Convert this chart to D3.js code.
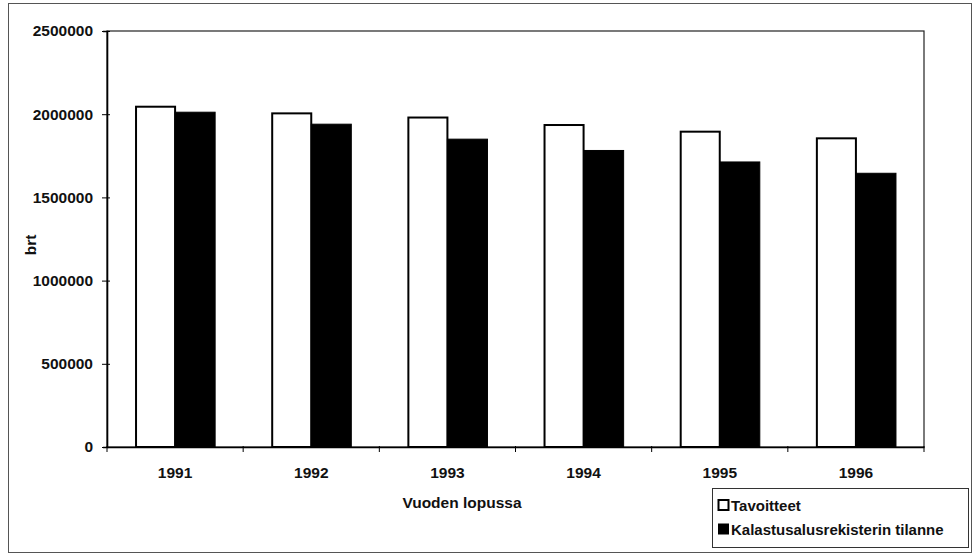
<!DOCTYPE html>
<html><head><meta charset="utf-8">
<script src="https://cdn.jsdelivr.net/npm/d3@7"></script>
<style>body{margin:0;background:#fff}text{font-family:"Liberation Sans",Arial,sans-serif;font-weight:bold;fill:#111}</style>
</head><body>
<svg id="c" width="975" height="556"></svg>
<script>
const years = ["1991","1992","1993","1994","1995","1996"];
const seriesNames = ["Tavoitteet","Kalastusalusrekisterin tilanne"];
const tavoitteet = [2045000,2005000,1980000,1935000,1895000,1855000];
const tilanne = [2012000,1940000,1850000,1782000,1713000,1645000];
const yTicks = [0,500000,1000000,1500000,2000000,2500000];
const xTitle = "Vuoden lopussa";
const yTitle = "brt";

const svg = d3.select("#c");
const L=107, R=924, T=31, B=447;
const FS = "15.5px";
// outer border
svg.append("rect").attr("x",8.5).attr("y",3.5).attr("width",963).attr("height",549)
  .attr("fill","none").attr("stroke","#555").attr("stroke-width",1);
// plot frame
svg.append("rect").attr("x",L).attr("y",T).attr("width",R-L).attr("height",B-T)
  .attr("fill","none").attr("stroke","#222").attr("stroke-width",1.2);

const x0 = d3.scaleBand().domain(years).range([L,R]).padding(0);
const x1 = d3.scaleBand().domain(seriesNames).range([0,x0.bandwidth()]).paddingInner(0).paddingOuter(0.7);
const y = d3.scaleLinear().domain([0,2500000]).range([B,T]);

const data = years.map((yr,i)=>({yr, vals:[tavoitteet[i],tilanne[i]]}));
const g = svg.append("g").selectAll("g").data(data).join("g")
  .attr("transform",d=>`translate(${x0(d.yr)},0)`);
g.selectAll("rect").data(d=>d.vals.map((v,j)=>({v,s:seriesNames[j],j}))).join("rect")
  .attr("x",d=>x1(d.s)+(d.j===0?1:0))
  .attr("y",d=>y(d.v))
  .attr("width",d=>x1.bandwidth()-(d.j===0?1:0))
  .attr("height",d=>B-y(d.v))
  .attr("fill",d=>d.j===0?"#fff":"#000")
  .attr("stroke","#000").attr("stroke-width",d=>d.j===0?2:1);

// y axis
const ya = svg.append("g").attr("transform",`translate(${L},0)`)
  .call(d3.axisLeft(y).tickValues(yTicks).tickFormat(d3.format("d")).tickSize(4).tickPadding(10));
ya.select(".domain").attr("stroke","#000").attr("stroke-width",1.6);
ya.selectAll(".tick line").attr("stroke","#000").attr("x2",-5).attr("x1",3);
ya.selectAll("text").style("font-size",FS).attr("fill","#111");

// x axis
const xa = svg.append("g").attr("transform",`translate(0,${B})`)
  .call(d3.axisBottom(x0).tickSize(0).tickPadding(20));
xa.select(".domain").attr("stroke","#000").attr("stroke-width",1.6);
xa.selectAll("text").style("font-size",FS).attr("fill","#111");
const bounds = years.map(yr=>x0(yr)).concat([R]);
svg.append("g").selectAll("line").data(bounds).join("line")
  .attr("x1",d=>d).attr("x2",d=>d).attr("y1",B-1).attr("y2",B+5).attr("stroke","#000").attr("stroke-width",1);

svg.append("text").attr("x",462).attr("y",508).attr("text-anchor","middle").style("font-size",FS).text(xTitle);
svg.append("text").attr("transform","translate(36,245) rotate(-90)").attr("text-anchor","middle").style("font-size",FS).text(yTitle);

// legend
const lg = svg.append("g");
lg.append("rect").attr("x",712.5).attr("y",488.5).attr("width",256).attr("height",59)
  .attr("fill","#fff").attr("stroke","#333").attr("stroke-width",1);
seriesNames.forEach((s,i)=>{
  const yy = 505 + i*24;
  lg.append("rect").attr("x",718.5).attr("y",yy-5).attr("width",10).attr("height",10)
    .attr("fill",i===0?"#fff":"#000").attr("stroke","#000").attr("stroke-width",i===0?2:1);
  lg.append("text").attr("x",731).attr("y",yy+5.5).style("font-size","15px").text(s);
});
</script>
</body></html>
